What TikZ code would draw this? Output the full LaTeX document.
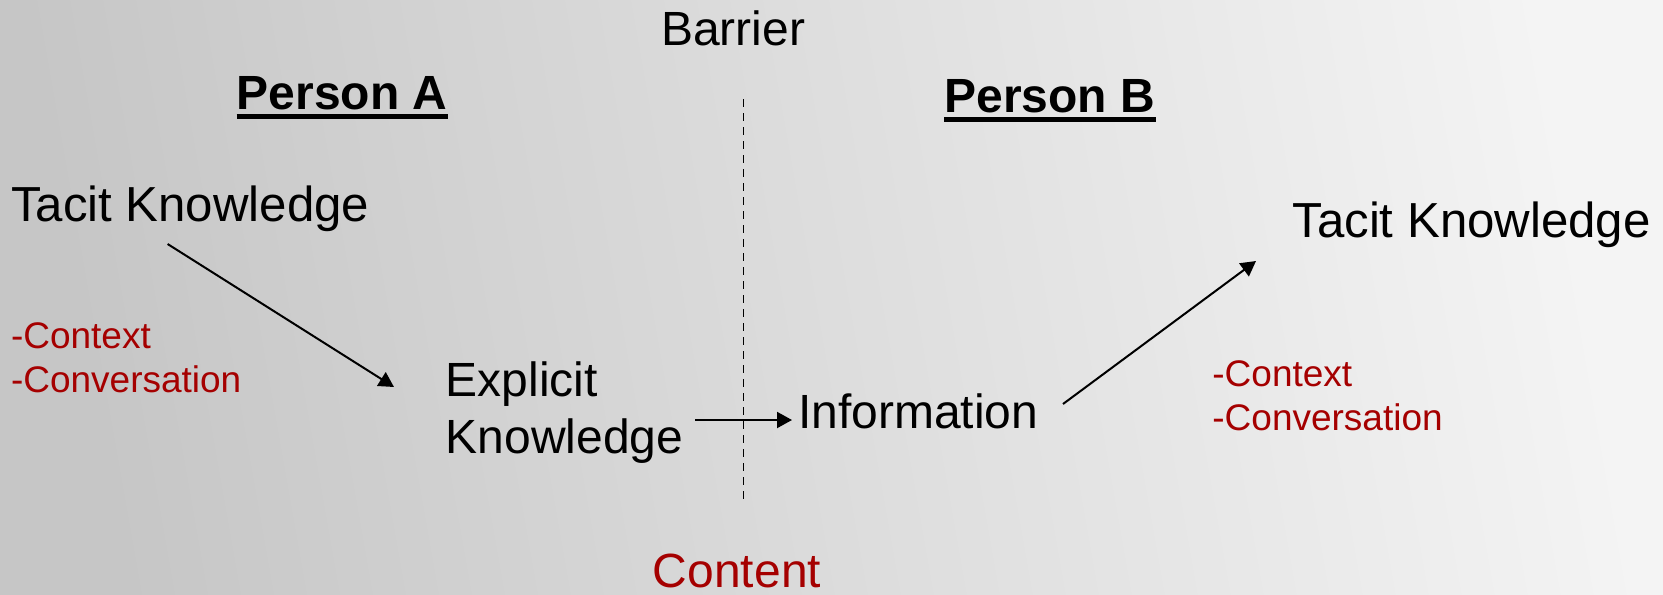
\documentclass[tikz,border=0pt]{standalone}
\usepackage{fontspec}
\setmainfont{Liberation Sans}
\usetikzlibrary{arrows.meta}
\definecolor{darkred}{RGB}{165,0,0}
\definecolor{bgleft}{RGB}{198,198,198}
\definecolor{bgright}{RGB}{244,244,244}
\begin{document}
\begin{tikzpicture}[x=0.5pt,y=-0.5pt,
  big/.style={inner sep=0pt,anchor=base west,font=\fontsize{24}{28.8}\selectfont},
  head/.style={big,font=\fontsize{24}{28.8}\selectfont\bfseries},
  small/.style={inner sep=0pt,anchor=base west,font=\fontsize{18.5}{22.2}\selectfont,text=darkred},
  conn/.style={line width=1pt,-{Triangle[length=7.5pt,width=8pt]}},
  uline/.style={line width=2.4pt},
  barrierline/.style={line width=0.75pt,dash pattern=on 4pt off 3pt}]
\useasboundingbox (0,0) rectangle (1663,594);
\shade[shading=axis,left color=bgleft,right color=bgright,shading angle=100] (0,0) rectangle (1663,594);
% texts
\node[big,anchor=base] (barrier) at (733,45) {Barrier};
\node[head] (pa) at (236.5,109) {Person A};
\node[head] (pb) at (944,112) {Person B};
\draw[uline] ([yshift=-3.6pt]pa.base west) -- ([yshift=-3.6pt]pa.base east);
\draw[uline] ([yshift=-3.6pt]pb.base west) -- ([yshift=-3.6pt]pb.base east);
\node[big,font=\fontsize{24.6}{29}\selectfont] (tacitA) at (10.6,221) {Tacit Knowledge};
\node[big,font=\fontsize{24.6}{29}\selectfont] (tacitB) at (1292,237) {Tacit Knowledge};
\node[small] (ctxA1) at (10.6,348) {-Context};
\node[small] (ctxA2) at (10.6,392) {-Conversation};
\node[small] (ctxB1) at (1212,386) {-Context};
\node[small] (ctxB2) at (1212,430) {-Conversation};
\node[big] (expl1) at (445.5,396) {Explicit};
\node[big] (expl2) at (445.5,453) {Knowledge};
\node[big] (info) at (797.6,428) {Information};
\node[big,anchor=base,text=darkred] (content) at (737,587) {Content};
% barrier line
\coordinate (bartop) at (743.5,99);
\coordinate (barbot) at (743.5,499);
\draw[barrierline] (bartop) -- (barbot);
% connectors
\coordinate (a1s) at (167.6,244);
\coordinate (a1e) at (394,387);
\coordinate (a2s) at (695,420);
\coordinate (a2e) at (792,420);
\coordinate (a3s) at (1063,404);
\coordinate (a3e) at (1256,261);
\draw[conn] (a1s) -- (a1e);
\draw[conn] (a2s) -- (a2e);
\draw[conn] (a3s) -- (a3e);
\end{tikzpicture}
\end{document}
